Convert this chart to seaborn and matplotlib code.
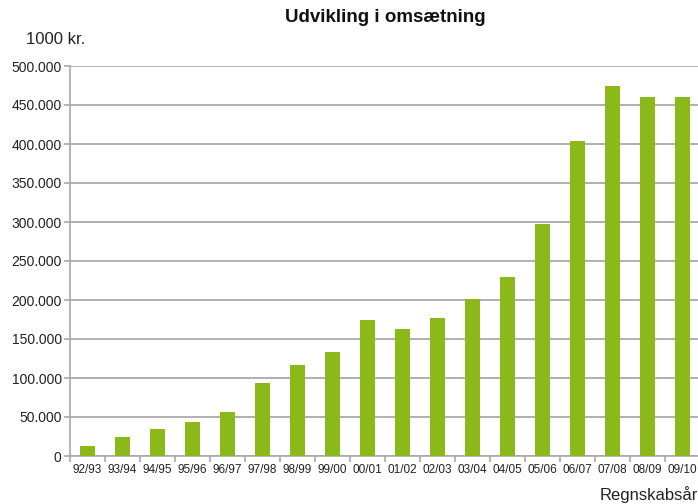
import matplotlib
matplotlib.use("Agg")
import matplotlib.pyplot as plt
from matplotlib.ticker import FuncFormatter, MultipleLocator
import seaborn as sns
import pandas as pd

# Omsætning pr. regnskabsår (1000 kr.)
years = ["92/93", "93/94", "94/95", "95/96", "96/97", "97/98", "98/99", "99/00",
         "00/01", "01/02", "02/03", "03/04", "04/05", "05/06", "06/07", "07/08",
         "08/09", "09/10"]
revenue = [12800, 24400, 34600, 43600, 56400, 93600, 116700, 133300,
           174400, 162800, 176900, 201300, 229500, 297400, 403800, 474400,
           460300, 460300]

df = pd.DataFrame({"aar": years, "omsaetning": revenue})

sns.set_theme(style="white")
plt.rcParams["font.family"] = ["Liberation Sans", "DejaVu Sans"]

fig = plt.figure(figsize=(6.98, 5.04), dpi=100)
ax = fig.add_axes([70 / 698, 1 - 456 / 504, 630 / 698, 390 / 504])

sns.barplot(data=df, x="aar", y="omsaetning", color="#8BB91A", saturation=1,
            width=0.44, linewidth=0, ax=ax, zorder=3)

ax.set_ylim(0, 500000)
ax.set_xlim(-0.5, len(years) - 0.5)
ax.yaxis.set_major_locator(MultipleLocator(50000))
ax.yaxis.set_major_formatter(
    FuncFormatter(lambda v, _: "0" if v == 0 else f"{int(v):,}".replace(",", ".")))
ax.grid(axis="y", color="#b0b0b0", linewidth=1.4, zorder=0)
ax.set_axisbelow(True)

for side in ("top", "right"):
    ax.spines[side].set_visible(False)
for side in ("left", "bottom"):
    ax.spines[side].set_color("#a8a8a8")
    ax.spines[side].set_linewidth(1.2)

ax.set_xticks([i - 0.5 for i in range(len(years) + 1)], minor=True)
ax.tick_params(axis="x", which="major", length=0, labelsize=8.5, pad=6,
               labelcolor="#222222")
ax.tick_params(axis="x", which="minor", bottom=True, length=4, width=1.2,
               color="#a8a8a8")
ax.tick_params(axis="y", left=True, length=4, width=1.2, color="#a8a8a8",
               labelsize=10, labelcolor="#222222", pad=2)
ax.set_xlabel("")
ax.set_ylabel("")

fig.text(385 / 698, 1 - 18 / 504, "Udvikling i omsætning", ha="center",
         va="center", fontsize=13.5, fontweight="bold", color="#111111")
fig.text(26 / 698, 1 - 40 / 504, "1000 kr.", ha="left", va="center",
         fontsize=12, color="#222222")
fig.text(698 / 698, 1 - 495 / 504, "Regnskabsår", ha="right", va="center",
         fontsize=12, color="#222222")

fig.savefig("out.png", dpi=100)
